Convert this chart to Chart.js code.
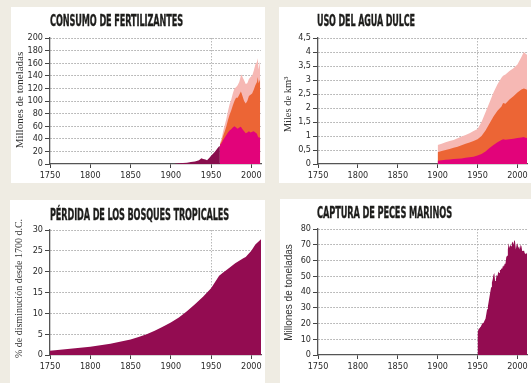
<!DOCTYPE html>
<html><head><meta charset="utf-8">
<script src="https://cdn.jsdelivr.net/npm/chart.js@4/dist/chart.umd.min.js"></script>
<style>
html,body{margin:0;padding:0;background:#efece3;width:531px;height:383px;overflow:hidden;position:relative;}
.panel{position:absolute;background:#fff;}
canvas{position:absolute;}
.title{position:absolute;font-family:"Liberation Sans Narrow","DejaVu Sans Condensed",sans-serif;font-weight:bold;font-size:16px;color:#1d1d1b;white-space:nowrap;transform-origin:0 0;line-height:1;letter-spacing:-0.2px;-webkit-text-stroke:0.35px #1d1d1b;}
.ytitle{position:absolute;white-space:nowrap;color:#333;line-height:1;}
</style></head>
<body>
<div class="panel" style="left:11px;top:7px;width:254px;height:176px"></div>
<div class="panel" style="left:279px;top:7px;width:252px;height:176px"></div>
<div class="panel" style="left:10px;top:200px;width:255px;height:183px"></div>
<div class="panel" style="left:280px;top:199px;width:251px;height:184px"></div>
<script>
// ---------- DATA ----------
const xTickYears = [1750, 1800, 1850, 1900, 1950, 2000];

// Consumo de fertilizantes (millones de toneladas)
const fertPreYears = [1905,1910,1915,1920,1925,1930,1935,1938,1940,1943,1945,1948,1950,1953,1955,1958,1960,1961];
const fertPreTotal = [0.5,1,1.5,2,3,4,6,9,8,7,6,10,13,17,20,25,28,30];
const fertYears = [1961,1963,1965,1967,1969,1971,1973,1975,1977,1979,1981,1983,1985,1987,1988,1989,1991,1993,1995,1997,1999,2001,2003,2005,2007,2008,2009,2011];
const fertMagenta   = [30,33,38,42,46,50,53,55,58,60,58,56,58,59,57,55,52,49,50,52,50,51,52,50,48,44,42,42];
const fertOrangeCum = [31,36,45,52,60,70,78,85,93,100,105,105,110,115,112,108,100,96,100,108,110,112,118,125,130,138,128,135];
const fertPinkCum   = [33,40,52,62,72,84,95,102,112,120,122,125,130,140,142,138,133,127,128,135,138,140,148,158,162,168,150,165];

// Uso del agua dulce (miles de km3)
const waterYears = [1900,1905,1910,1915,1920,1925,1930,1935,1940,1945,1950,1955,1960,1965,1970,1975,1980,1982,1985,1990,1995,2000,2005,2008,2010,2012];
const waterMagenta   = [0.12,0.13,0.15,0.16,0.18,0.19,0.2,0.22,0.24,0.26,0.3,0.36,0.45,0.57,0.68,0.78,0.86,0.88,0.87,0.88,0.9,0.93,0.95,0.96,0.94,0.93];
const waterOrangeCum = [0.42,0.46,0.5,0.54,0.58,0.62,0.67,0.72,0.77,0.82,0.88,1.0,1.2,1.45,1.7,1.9,2.05,2.18,2.15,2.3,2.42,2.55,2.66,2.7,2.68,2.65];
const waterPinkCum   = [0.68,0.72,0.78,0.82,0.86,0.92,0.98,1.04,1.1,1.18,1.25,1.5,1.85,2.2,2.55,2.85,3.08,3.15,3.2,3.32,3.42,3.55,3.82,4.0,3.95,3.9];
const waterTickLabels = ['0','0,5','1','1,5','2','2,5','3','3,5','4','4,5'];

// Pérdida de los bosques tropicales (% de disminución desde 1700)
const forestYears = [1750,1775,1800,1825,1850,1860,1870,1880,1890,1900,1910,1920,1930,1940,1950,1955,1960,1965,1970,1980,1990,1993,2000,2005,2012];
const forestLoss  = [1.0,1.5,2.0,2.7,3.7,4.3,5.0,5.8,6.8,7.8,9.0,10.5,12.2,14.0,16.0,17.5,19.0,19.8,20.5,22.0,23.2,23.5,25.0,26.5,27.8];

// Captura de peces marinos (millones de toneladas)
const fishYears = [1950,1951,1952,1953,1954,1955,1956,1957,1958,1959,1960,1961,1962,1963,1964,1965,1966,1967,1968,1969,1970,1971,1972,1973,1974,1975,1976,1977,1978,1979,1980,1981,1982,1983,1984,1985,1986,1987,1988,1989,1990,1991,1992,1993,1994,1995,1996,1997,1998,1999,2000,2001,2002,2003,2004,2005,2006,2007,2008,2009,2010,2011,2012];
const fishCatch = [14,16,17,17.5,18,19,20,20.5,21,22,23,26,29,31,34,37,40,43,46,48,51,52,47,48,51,50,53,52,54,54,55,55,57,56,58,58,62,63,67,71,68,70,69,71,72,70,73,72,67,70,71,68,69,67,70,69,66,66,67,65,64,65,64];

// ---------- STYLE ----------
const C = {dark:'#930c51', darkFert:'#880e4d', magenta:'#e2037a', orange:'#ec6535', pink:'#f6b8b4'};
const tickFont = {family:"'Liberation Sans Narrow','DejaVu Sans Condensed',sans-serif", size:9};

function pts(xs, ys){ return xs.map((x,i)=>({x:x, y:ys[i]})); }
function ds(xs, ys, color){
  return {data:pts(xs,ys), backgroundColor:color, borderColor:'rgba(0,0,0,0)', borderWidth:0, fill:'origin', pointRadius:0, tension:0};
}

function makeChart(cfg){
  const c = document.createElement('canvas');
  c.width = cfg.W; c.height = cfg.H;
  c.style.left = cfg.L+'px'; c.style.top = cfg.T+'px';
  c.style.width = cfg.W+'px'; c.style.height = cfg.H+'px';
  document.body.appendChild(c);
  new Chart(c, {
    type:'line',
    data:{datasets:cfg.datasets},
    options:{
      responsive:false, animation:false, maintainAspectRatio:false,
      layout:{padding:{left:0, top:cfg.padTop, right:cfg.padRight, bottom:0}},
      plugins:{legend:{display:false}, tooltip:{enabled:false}, title:{display:false}},
      scales:{
        x:{type:'linear', min:1750, max:2012,
          afterFit:s=>{s.height = cfg.xH;},
          afterBuildTicks:s=>{s.ticks = xTickYears.map(v=>({value:v}));},
          ticks:{autoSkip:false, maxRotation:0, font:tickFont, color:'#2a2a2a', padding:2, callback:v=>String(v)},
          grid:{color:ctx=> (ctx.tick && ctx.tick.value===1950) ? '#b8b8b8' : 'rgba(0,0,0,0)', tickColor:'#444', tickLength:4, lineWidth:1},
          border:{color:'#555', width:1.3, dash:[1.5,1.5]}
        },
        y:{type:'linear', min:0, max:cfg.ymax,
          afterFit:s=>{s.width = cfg.yW;},
          ticks:{stepSize:cfg.step, autoSkip:false, font:tickFont, color:'#2a2a2a', padding:2, callback:cfg.yLabel},
          grid:{color:ctx=> (ctx.tick && ctx.tick.value===0) ? 'rgba(0,0,0,0)' : '#a8a8a8', tickColor:'#444', tickLength:5, lineWidth:1},
          border:{color:'#555', width:1.3, dash:[1.5,1.5]}
        }
      }
    }
  });
}

makeChart({L:12, T:28, W:253, H:155, yW:38, padTop:10, padRight:4, xH:19, ymax:200, step:20,
  yLabel:v=>String(v),
  datasets:[ds(fertYears,fertMagenta,C.magenta), ds(fertYears,fertOrangeCum,C.orange), ds(fertYears,fertPinkCum,C.pink), ds(fertPreYears,fertPreTotal,C.darkFert)]});

makeChart({L:280, T:28, W:251, H:155, yW:38, padTop:10, padRight:4, xH:19, ymax:4.5, step:0.5,
  yLabel:(v,i)=>waterTickLabels[i],
  datasets:[ds(waterYears,waterMagenta,C.magenta), ds(waterYears,waterOrangeCum,C.orange), ds(waterYears,waterPinkCum,C.pink)]});

makeChart({L:12, T:218, W:253, H:165, yW:38, padTop:12, padRight:4, xH:28, ymax:30, step:5,
  yLabel:v=>String(v),
  datasets:[ds(forestYears,forestLoss,C.dark)]});

makeChart({L:280, T:218, W:251, H:165, yW:38, padTop:11, padRight:4, xH:28, ymax:80, step:10,
  yLabel:v=>String(v),
  datasets:[ds(fishYears,fishCatch,C.dark)]});

// ---------- TEXT ----------
function title(text, left, top, width){
  const d = document.createElement('div');
  d.className='title'; d.textContent=text;
  d.style.left=left+'px'; d.style.top=top+'px';
  document.body.appendChild(d);
  const w = d.getBoundingClientRect().width;
  d.style.transform = 'scaleX('+(width/w)+')';
}
function ytitle(text, cx, cy, font){
  const d = document.createElement('div');
  d.className='ytitle'; d.textContent=text; d.style.font=font;
  document.body.appendChild(d);
  const r = d.getBoundingClientRect();
  d.style.left=(cx - r.width/2)+'px'; d.style.top=(cy - r.height/2)+'px';
  d.style.transform='rotate(-90deg)';
}
title('CONSUMO DE FERTILIZANTES', 50, 13, 133);
title('USO DEL AGUA DULCE', 317, 13, 98);
title('PÉRDIDA DE LOS BOSQUES TROPICALES', 50, 206.5, 179);
title('CAPTURA DE PECES MARINOS', 317, 205, 135);

const serif = "11px 'Liberation Serif','DejaVu Serif',serif";
ytitle('Millones de toneladas', 19, 100, serif);
ytitle('Miles de km³', 288, 104, "10.5px 'Liberation Serif','DejaVu Serif',serif");
ytitle('% de disminución desde 1700 d.C.', 19, 288, "10px 'Liberation Serif','DejaVu Serif',serif");
ytitle('Millones de toneladas', 288, 292, "10px 'Liberation Sans','Arial',sans-serif");
</script>
</body></html>
